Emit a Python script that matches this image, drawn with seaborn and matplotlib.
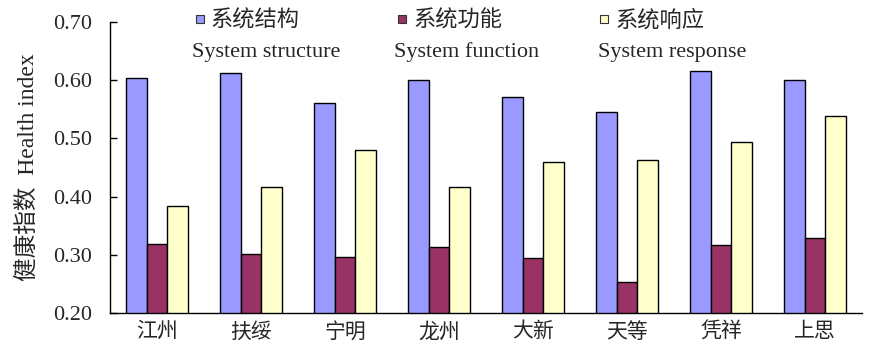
import matplotlib
matplotlib.use("Agg")
import matplotlib.pyplot as plt
from matplotlib.lines import Line2D
from matplotlib.ticker import FixedLocator
import seaborn as sns
import pandas as pd

regions = ["江州", "扶绥", "宁明", "龙州", "大新", "天等", "凭祥", "上思"]
structure = [0.604, 0.612, 0.561, 0.600, 0.571, 0.546, 0.615, 0.600]
function = [0.319, 0.302, 0.297, 0.314, 0.295, 0.254, 0.316, 0.329]
response = [0.383, 0.416, 0.480, 0.416, 0.459, 0.463, 0.493, 0.538]
series_cn = ["系统结构", "系统功能", "系统响应"]
series_en = ["System structure", "System function", "System response"]
colors = ["#9999FF", "#993366", "#FFFFCC"]
yticks = [0.20, 0.30, 0.40, 0.50, 0.60, 0.70]

sns.set_style("white")
plt.rcParams["font.family"] = ["Liberation Serif", "Noto Sans CJK SC"]

df = pd.DataFrame({
    "region": regions * 3,
    "value": structure + function + response,
    "series": sum([[s] * len(regions) for s in series_cn], []),
})

fig = plt.figure(figsize=(8.7, 3.46), dpi=100)
ax = fig.add_axes([110 / 870, 33 / 346, (862 - 110) / 870, (313 - 22) / 346])
sns.barplot(data=df, x="region", y="value", hue="series", hue_order=series_cn,
            palette=colors, width=0.66, gap=0, edgecolor="black", linewidth=1.0,
            saturation=1, legend=False, ax=ax, errorbar=None)

ax.set_ylim(0.20, 0.70)
ax.set_xlim(-0.5, len(regions) - 0.5)
ax.set_yticks(yticks)
ax.set_yticklabels([f"{v:.2f}" for v in yticks], fontsize=16)
ax.set_xticks(range(len(regions)))
ax.set_xticklabels(regions, fontsize=15)
ax.xaxis.set_minor_locator(FixedLocator([i - 0.5 for i in range(len(regions) + 1)]))
ax.tick_params(axis="x", which="major", length=0, pad=7)
ax.tick_params(axis="x", which="minor", direction="in", length=5, width=1, color="black")
ax.tick_params(axis="y", which="major", direction="in", length=5, width=1, color="black", left=True, pad=13)
ax.set_xlabel("")
ax.set_ylabel("健康指数  Health index", fontsize=17, labelpad=10)
for side in ["top", "right"]:
    ax.spines[side].set_visible(False)
for side in ["left", "bottom"]:
    ax.spines[side].set_color("black")
    ax.spines[side].set_linewidth(1.0)

handles = [Line2D([], [], linestyle="none", marker="s", markersize=6,
                  markerfacecolor=c, markeredgecolor="#333333", markeredgewidth=0.8)
           for c in colors]
leg = fig.legend(handles, series_cn, loc="upper left", bbox_to_anchor=(193 / 870, 1 - 10 / 346),
                 ncol=3, frameon=False, fontsize=16, handlelength=0.6, handletextpad=0.2,
                 columnspacing=4.3, borderpad=0, borderaxespad=0)

en_x = [192, 394, 598]
for x, t in zip(en_x, series_en):
    fig.text(x / 870, 1 - 52 / 346, t, fontsize=16, ha="left", va="center")

fig.savefig("out.png", dpi=100)
